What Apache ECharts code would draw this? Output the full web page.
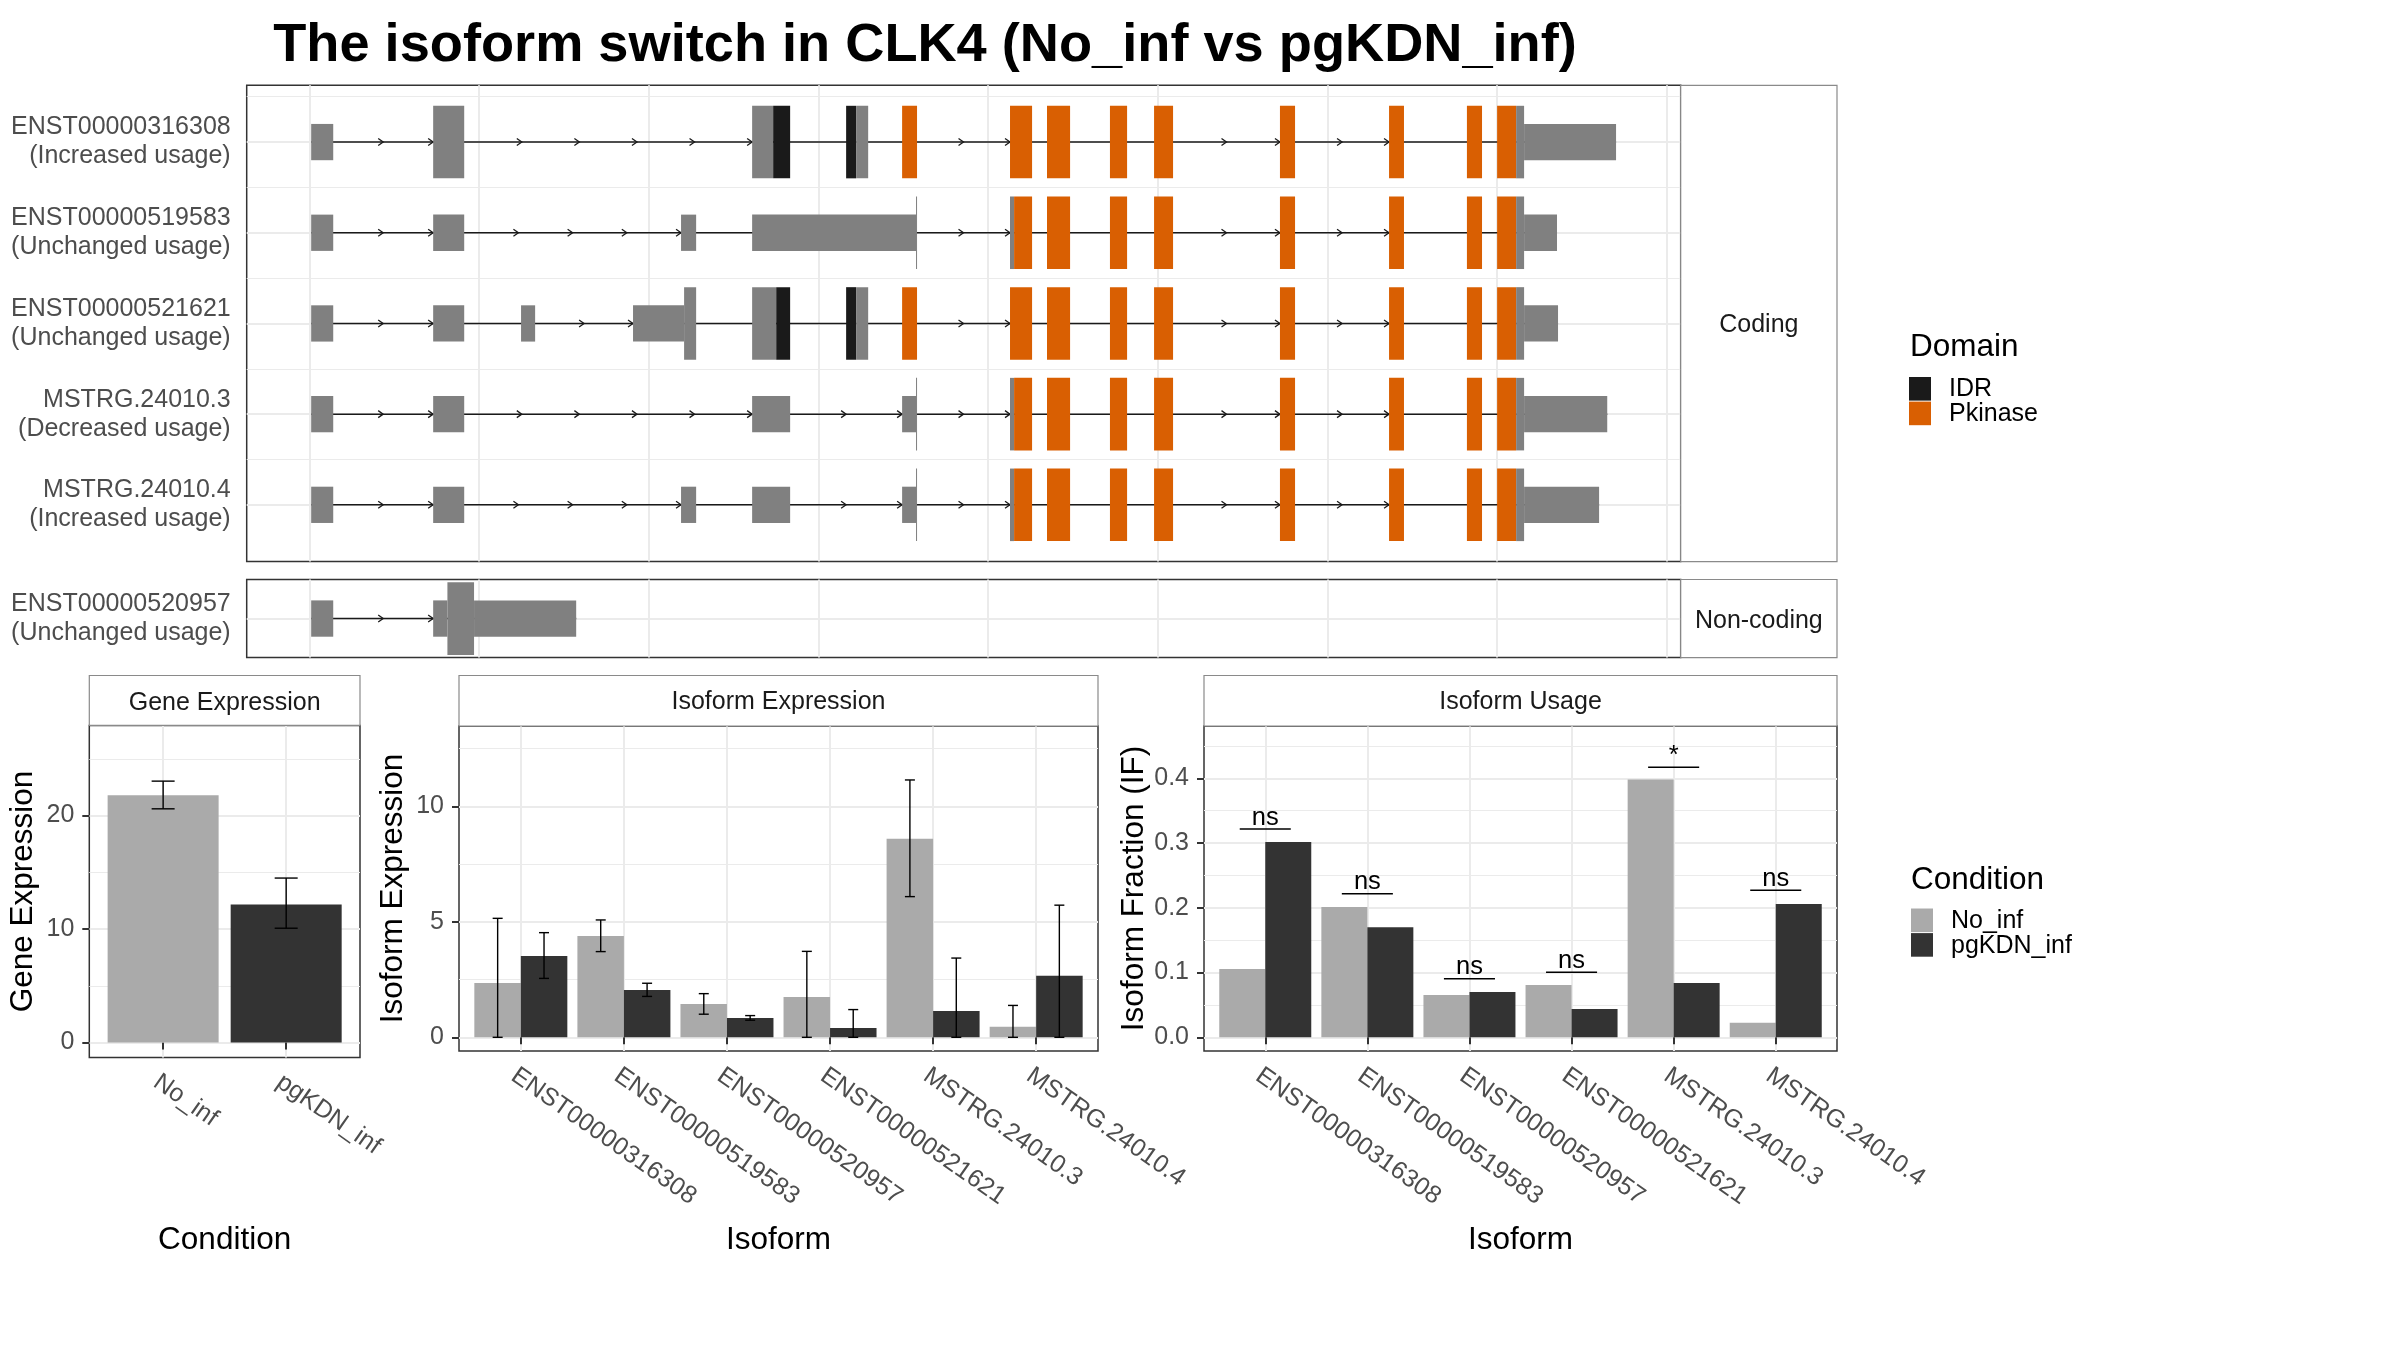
<!DOCTYPE html>
<html>
<head>
<meta charset="utf-8">
<script src="https://cdn.jsdelivr.net/npm/echarts@6/dist/echarts.min.js"></script>
<style>
html,body{margin:0;padding:0;background:#ffffff;}
#c{width:2400px;height:1350px;}
</style>
</head>
<body>
<div id="c"></div>
<script>
// ---------------- DATA ----------------
const chartTitle = 'The isoform switch in CLK4 (No_inf vs pgKDN_inf)';

// transcript structure panel
const codingNames = ['ENST00000316308','ENST00000519583','ENST00000521621','MSTRG.24010.3','MSTRG.24010.4'];
const codingUsage = ['(Increased usage)','(Unchanged usage)','(Unchanged usage)','(Decreased usage)','(Increased usage)'];
const noncodingNames = ['ENST00000520957'];
const noncodingUsage = ['(Unchanged usage)'];
const panelLabels = ['Coding','Non-coding'];

// exon segments in relative genomic units: [start, end, kind]  U = UTR, C = CDS, I = IDR, P = Pkinase
const ENST00000316308 = [[10,140,'U'],[729,912,'C'],[2609,2733,'C'],[2733,2833,'I'],[3163,3222,'I'],[3222,3293,'C'],[3493,3581,'P'],[4129,4259,'P'],[4347,4483,'P'],[4718,4819,'P'],[4978,5090,'P'],[5720,5809,'P'],[6363,6451,'P'],[6822,6911,'P'],[7000,7112,'P'],[7112,7159,'C'],[7159,7701,'U']];
const ENST00000519583 = [[10,140,'U'],[729,912,'U'],[2190,2279,'U'],[2609,3575,'U'],[3575,3581,'C'],[4129,4153,'C'],[4153,4259,'P'],[4347,4483,'P'],[4718,4819,'P'],[4978,5090,'P'],[5720,5809,'P'],[6363,6451,'P'],[6822,6911,'P'],[7000,7112,'P'],[7112,7159,'C'],[7159,7353,'U']];
const ENST00000521621 = [[10,140,'U'],[729,912,'U'],[1247,1330,'U'],[1907,2208,'U'],[2208,2279,'C'],[2609,2751,'C'],[2751,2833,'I'],[3163,3222,'I'],[3222,3293,'C'],[3493,3581,'P'],[4129,4259,'P'],[4347,4483,'P'],[4718,4819,'P'],[4978,5090,'P'],[5720,5809,'P'],[6363,6451,'P'],[6822,6911,'P'],[7000,7112,'P'],[7112,7159,'C'],[7159,7359,'U']];
const MSTRG_24010_3 = [[10,140,'U'],[729,912,'U'],[2609,2833,'U'],[3493,3575,'U'],[3575,3581,'C'],[4129,4153,'C'],[4153,4259,'P'],[4347,4483,'P'],[4718,4819,'P'],[4978,5090,'P'],[5720,5809,'P'],[6363,6451,'P'],[6822,6911,'P'],[7000,7112,'P'],[7112,7159,'C'],[7159,7649,'U']];
const MSTRG_24010_4 = [[10,140,'U'],[729,912,'U'],[2190,2279,'U'],[2609,2833,'U'],[3493,3575,'U'],[3575,3581,'C'],[4129,4153,'C'],[4153,4259,'P'],[4347,4483,'P'],[4718,4819,'P'],[4978,5090,'P'],[5720,5809,'P'],[6363,6451,'P'],[6822,6911,'P'],[7000,7112,'P'],[7112,7159,'C'],[7159,7601,'U']];
const ENST00000520957 = [[10,140,'U'],[729,813,'U'],[813,970,'C'],[970,1572,'U']];
const codingSegments = [ENST00000316308, ENST00000519583, ENST00000521621, MSTRG_24010_3, MSTRG_24010_4];
const noncodingSegments = [ENST00000520957];
const genomeBreaks = [0,1000,2000,3000,4000,5000,6000,7000,8000];

const domainNames = ['IDR','Pkinase'];

// expression panels
const conditions = ['No_inf','pgKDN_inf'];
const geneMean = [21.78, 12.16];
const geneLow  = [20.59, 10.07];
const geneHigh = [23.03, 14.49];

const isoforms = ['ENST00000316308','ENST00000519583','ENST00000520957','ENST00000521621','MSTRG.24010.3','MSTRG.24010.4'];
const isoExprNoInf    = [2.35, 4.39, 1.44, 1.75, 8.59, 0.46];
const isoExprNoInfLow = [0.00, 3.71, 1.00, 0.00, 6.09, 0.00];
const isoExprNoInfHigh= [5.15, 5.08, 1.89, 3.72, 11.14, 1.38];
const isoExprPg       = [3.52, 2.05, 0.84, 0.40, 1.14, 2.66];
const isoExprPgLow    = [2.55, 1.77, 0.74, 0.00, 0.00, 0.00];
const isoExprPgHigh   = [4.53, 2.34, 0.94, 1.20, 3.43, 5.72];

const ifNoInf = [0.1055, 0.2013, 0.0654, 0.0808, 0.3980, 0.0225];
const ifPg    = [0.3017, 0.1700, 0.0700, 0.0438, 0.0839, 0.2058];
const sigLabels = ['ns','ns','ns','ns','*','ns'];
const sigLevel  = [0.3217, 0.2218, 0.0905, 0.1004, 0.4170, 0.2271];

// ---------------- STYLE ----------------
const FONT = '"Liberation Sans", Arial, Helvetica, sans-serif';
const GRID_COLOR = '#ebebeb';
const KIND_COLOR = {U:'#808080', C:'#808080', I:'#1a1a1a', P:'#d95f02'};
const COND_COLOR = {'No_inf':'#aaaaaa', 'pgKDN_inf':'#333333'};
const AXIS_TEXT = '#4d4d4d';

// ---------------- RENDERERS ----------------
function transcriptRenderer(segList) {
  return function (params, api) {
    const row = api.value(1);
    const segs = segList[row];
    const children = [];
    const y = api.coord([0, row])[1];
    const xs = api.coord([segs[0][0], row])[0];
    const xe = api.coord([segs[segs.length - 1][1], row])[0];
    children.push({type:'line', shape:{x1:xs, y1:y, x2:xe, y2:y}, style:{stroke:'#1a1a1a', lineWidth:1.5}});
    for (let i = 1; i < segs.length; i++) {
      const a = api.coord([segs[i - 1][1], row])[0];
      const b = api.coord([segs[i][0], row])[0];
      const L = b - a;
      if (L >= 70) {
        const n = Math.round(L / 57);
        for (let k = 1; k <= n; k++) {
          const x = a + k * L / n;
          children.push({type:'polyline', shape:{points:[[x - 5, y - 3.5],[x, y],[x - 5, y + 3.5]]},
            style:{stroke:'#1a1a1a', lineWidth:1.3, fill:null}});
        }
      }
    }
    segs.forEach(function (s) {
      const h = s[2] === 'U' ? 0.2 : 0.4;
      const p1 = api.coord([s[0], row - h]);
      const p2 = api.coord([s[1], row + h]);
      children.push({type:'rect', shape:{x:p1[0], y:Math.min(p1[1], p2[1]), width:Math.max(p2[0] - p1[0], 1), height:Math.abs(p2[1] - p1[1])},
        style:{fill:KIND_COLOR[s[2]]}});
    });
    return {type:'group', children:children};
  };
}

function errorRenderer(offset, capHalf) {
  return function (params, api) {
    const x = api.value(0) + offset;
    const lo = api.coord([x, api.value(1)]);
    const hi = api.coord([x, api.value(2)]);
    const st = {stroke:'#000000', lineWidth:1.4};
    return {type:'group', children:[
      {type:'line', shape:{x1:lo[0], y1:lo[1], x2:hi[0], y2:hi[1]}, style:st},
      {type:'line', shape:{x1:hi[0] - capHalf, y1:hi[1], x2:hi[0] + capHalf, y2:hi[1]}, style:st},
      {type:'line', shape:{x1:lo[0] - capHalf, y1:lo[1], x2:lo[0] + capHalf, y2:lo[1]}, style:st}
    ]};
  };
}

function sigRenderer(params, api) {
  const x = api.value(0), yv = api.value(1);
  const a = api.coord([x - 0.25, yv]);
  const b = api.coord([x + 0.25, yv]);
  return {type:'group', children:[
    {type:'line', shape:{x1:a[0], y1:a[1], x2:b[0], y2:b[1]}, style:{stroke:'#000000', lineWidth:1.4}},
    {type:'text', x:(a[0] + b[0]) / 2, y:a[1] + 1.5,
      style:{text:sigLabels[params.dataIndex], fill:'#000000', fontSize:25.5, fontFamily:FONT,
        align:'center', verticalAlign:'bottom', textAlign:'center', textVerticalAlign:'bottom'}}
  ]};
}

// ---------------- AXES HELPERS ----------------
function majorSplit() { return {show:true, lineStyle:{color:GRID_COLOR, width:2}}; }
function minorSplit() { return {show:true, lineStyle:{color:GRID_COLOR, width:1.2}}; }
const tickStyle = {show:true, length:7, lineStyle:{color:'#333333', width:2}};

function hiddenX(grid) {
  return {gridIndex:grid, type:'value', min:-370, max:8082, axisLine:{show:false}, axisLabel:{show:false},
    axisTick:{show:false, customValues:genomeBreaks}, splitLine:majorSplit()};
}
function catX(grid, min, max, names, title, gap) {
  const vals = names.map(function (n, i) { return i + 1; });
  return {gridIndex:grid, type:'value', min:min, max:max, axisLine:{show:false},
    axisTick:Object.assign({customValues:vals}, tickStyle),
    axisLabel:{customValues:vals, formatter:function (v) { return names[Math.round(v) - 1]; }, rotate:-35,
      fontSize:25, color:AXIS_TEXT, fontFamily:FONT, margin:12, verticalAlign:'top'},
    splitLine:majorSplit(),
    name:title, nameLocation:'middle', nameGap:gap, nameTextStyle:{fontSize:31.5, color:'#000000', fontFamily:FONT}};
}
function valY(grid, min, max, major, fmt, title, gap) {
  return {gridIndex:grid, type:'value', min:min, max:max, axisLine:{show:false},
    axisTick:Object.assign({customValues:major}, tickStyle),
    axisLabel:{customValues:major, formatter:fmt, fontSize:25, color:AXIS_TEXT, fontFamily:FONT, margin:15},
    splitLine:majorSplit(),
    name:title, nameLocation:'middle', nameGap:gap, nameTextStyle:{fontSize:31.5, color:'#000000', fontFamily:FONT}};
}
function minorY(grid, min, max, minor, inverse) {
  return {gridIndex:grid, type:'value', min:min, max:max, inverse:!!inverse, axisLine:{show:false},
    axisLabel:{show:false}, axisTick:{show:false, customValues:minor}, splitLine:minorSplit()};
}

// ---------------- GRAPHICS ----------------
function strip(x, y, w, h, text, dy) {
  return [
    {type:'rect', shape:{x:x, y:y, width:w, height:h}, style:{fill:'#ffffff', stroke:'#8a8a8a', lineWidth:1.2}, z:10},
    {type:'text', x:x + w / 2, y:y + h / 2 + (dy || 0), z:11,
      style:{text:text, fill:'#1a1a1a', fontSize:25, fontFamily:FONT, align:'center', verticalAlign:'middle',
        textAlign:'center', textVerticalAlign:'middle'}}
  ];
}
function legendText(x, y, text, size) {
  return {type:'text', x:x, y:y, z:11,
    style:{text:text, fill:'#000000', fontSize:size, fontFamily:FONT, align:'left', verticalAlign:'middle',
      textAlign:'left', textVerticalAlign:'middle'}};
}
function legendKey(x, y, color) {
  return {type:'rect', shape:{x:x, y:y, width:22, height:23.6}, style:{fill:color}, z:11};
}

const graphics = [].concat(
  [{type:'text', x:925, y:46, z:11,
    style:{text:chartTitle, fill:'#000000', fontSize:54.2, fontWeight:'bold', fontFamily:FONT,
      align:'center', verticalAlign:'middle', textAlign:'center', textVerticalAlign:'middle'}}],
  strip(1680.7, 85.3, 156.3, 476.3, panelLabels[0], 1.5),
  strip(1680.7, 579.5, 156.3, 78.1, panelLabels[1], 2.5),
  strip(89.3, 675.5, 270.7, 49.9, 'Gene Expression', 2.5),
  strip(459, 675.5, 639, 50.5, 'Isoform Expression', 1.5),
  strip(1204, 675.5, 633, 50.5, 'Isoform Usage', 1.5),
  [
    legendText(1910, 347.5, 'Domain', 31.5),
    legendKey(1909, 377, KIND_COLOR.I), legendText(1949, 389.5, domainNames[0], 25),
    legendKey(1909, 401.6, KIND_COLOR.P), legendText(1949, 414, domainNames[1], 25),
    legendText(1911, 880, 'Condition', 31.5),
    legendKey(1911, 908.5, COND_COLOR[conditions[0]]), legendText(1951, 921, conditions[0], 25),
    legendKey(1911, 933.1, COND_COLOR[conditions[1]]), legendText(1951, 946, conditions[1], 25)
  ]
);

// ---------------- OPTION ----------------
const gridBox = {show:true, borderColor:'#333333', borderWidth:1.5, backgroundColor:'#ffffff'};
const option = {
  animation:false,
  backgroundColor:'#ffffff',
  textStyle:{fontFamily:FONT},
  grid:[
    Object.assign({left:246.7, top:85.3, width:1434, height:476.3}, gridBox),
    Object.assign({left:246.7, top:579.5, width:1434, height:78.1}, gridBox),
    Object.assign({left:89.3, top:725.4, width:270.7, height:332.1}, gridBox),
    Object.assign({left:459, top:726, width:639, height:325}, gridBox),
    Object.assign({left:1204, top:726, width:633, height:325}, gridBox)
  ],
  xAxis:[
    hiddenX(0),
    hiddenX(1),
    catX(2, 0.4, 2.6, conditions, 'Condition', 167),
    catX(3, 0.4, 6.6, isoforms, 'Isoform', 173),
    catX(4, 0.4, 6.6, isoforms, 'Isoform', 173)
  ],
  yAxis:[
    {gridIndex:0, type:'value', inverse:true, min:-0.626, max:4.626, axisLine:{show:false},
      axisTick:{show:false, customValues:[0,1,2,3,4]},
      axisLabel:{customValues:[0,1,2,3,4], formatter:function (v) { const i = Math.round(v); return codingNames[i] + '\n' + codingUsage[i]; },
        fontSize:25, lineHeight:29, color:AXIS_TEXT, fontFamily:FONT, align:'right', margin:16, padding:[12,0,0,0]},
      splitLine:majorSplit()},
    minorY(0, -0.626, 4.626, [-0.5,0.5,1.5,2.5,3.5], true),
    {gridIndex:1, type:'value', inverse:true, min:-0.43, max:0.43, axisLine:{show:false},
      axisTick:{show:false, customValues:[0]},
      axisLabel:{customValues:[0], formatter:function () { return noncodingNames[0] + '\n' + noncodingUsage[0]; },
        fontSize:25, lineHeight:29, color:AXIS_TEXT, fontFamily:FONT, align:'right', margin:16, padding:[12,0,0,0]},
      splitLine:majorSplit()},
    valY(2, -1.32, 27.94, [0,10,20], function (v) { return String(v); }, 'Gene Expression', 50),
    minorY(2, -1.32, 27.94, [5,15,25]),
    valY(3, -0.593, 13.476, [0,5,10], function (v) { return String(v); }, 'Isoform Expression', 50),
    minorY(3, -0.593, 13.476, [2.5,7.5,12.5]),
    valY(4, -0.0212, 0.4808, [0,0.1,0.2,0.3,0.4], function (v) { return v.toFixed(1); }, 'Isoform Fraction (IF)', 52),
    minorY(4, -0.0212, 0.4808, [0.05,0.15,0.25,0.35,0.45])
  ],
  series:[
    {type:'custom', name:'Coding transcripts', xAxisIndex:0, yAxisIndex:0, silent:true, z:5, clip:false,
      encode:{x:[0,2], y:1},
      data:codingSegments.map(function (s, i) { return [s[0][0], i, s[s.length - 1][1]]; }),
      renderItem:transcriptRenderer(codingSegments)},
    {type:'custom', name:'Non-coding transcripts', xAxisIndex:1, yAxisIndex:2, silent:true, z:5, clip:false,
      encode:{x:[0,2], y:1},
      data:noncodingSegments.map(function (s, i) { return [s[0][0], i, s[s.length - 1][1]]; }),
      renderItem:transcriptRenderer(noncodingSegments)},
    {type:'bar', name:'Gene Expression', xAxisIndex:2, yAxisIndex:3, barWidth:111, silent:true,
      data:conditions.map(function (c, i) { return {value:[i + 1, geneMean[i]], itemStyle:{color:COND_COLOR[c]}}; })},
    {type:'custom', name:'Gene Expression error', xAxisIndex:2, yAxisIndex:3, silent:true, z:6,
      encode:{x:0, y:[1,2]},
      data:conditions.map(function (c, i) { return [i + 1, geneLow[i], geneHigh[i]]; }),
      renderItem:errorRenderer(0, 11.5)},
    {type:'bar', name:'No_inf', xAxisIndex:3, yAxisIndex:5, barWidth:46.5, barGap:'0%', silent:true,
      itemStyle:{color:COND_COLOR['No_inf']},
      data:isoExprNoInf.map(function (v, i) { return [i + 1, v]; })},
    {type:'bar', name:'pgKDN_inf', xAxisIndex:3, yAxisIndex:5, barWidth:46.5, barGap:'0%', silent:true,
      itemStyle:{color:COND_COLOR['pgKDN_inf']},
      data:isoExprPg.map(function (v, i) { return [i + 1, v]; })},
    {type:'custom', name:'No_inf error', xAxisIndex:3, yAxisIndex:5, silent:true, z:6, encode:{x:0, y:[1,2]},
      data:isoExprNoInf.map(function (v, i) { return [i + 1, isoExprNoInfLow[i], isoExprNoInfHigh[i]]; }),
      renderItem:errorRenderer(-0.225, 5)},
    {type:'custom', name:'pgKDN_inf error', xAxisIndex:3, yAxisIndex:5, silent:true, z:6, encode:{x:0, y:[1,2]},
      data:isoExprPg.map(function (v, i) { return [i + 1, isoExprPgLow[i], isoExprPgHigh[i]]; }),
      renderItem:errorRenderer(0.225, 5)},
    {type:'bar', name:'No_inf IF', xAxisIndex:4, yAxisIndex:7, barWidth:46, barGap:'0%', silent:true,
      itemStyle:{color:COND_COLOR['No_inf']},
      data:ifNoInf.map(function (v, i) { return [i + 1, v]; })},
    {type:'bar', name:'pgKDN_inf IF', xAxisIndex:4, yAxisIndex:7, barWidth:46, barGap:'0%', silent:true,
      itemStyle:{color:COND_COLOR['pgKDN_inf']},
      data:ifPg.map(function (v, i) { return [i + 1, v]; })},
    {type:'custom', name:'Significance', xAxisIndex:4, yAxisIndex:7, silent:true, z:6, clip:false, encode:{x:0, y:1},
      data:sigLevel.map(function (v, i) { return [i + 1, v]; }),
      renderItem:sigRenderer}
  ],
  graphic:graphics
};

const chart = echarts.init(document.getElementById('c'));
chart.setOption(option);
</script>
</body>
</html>
